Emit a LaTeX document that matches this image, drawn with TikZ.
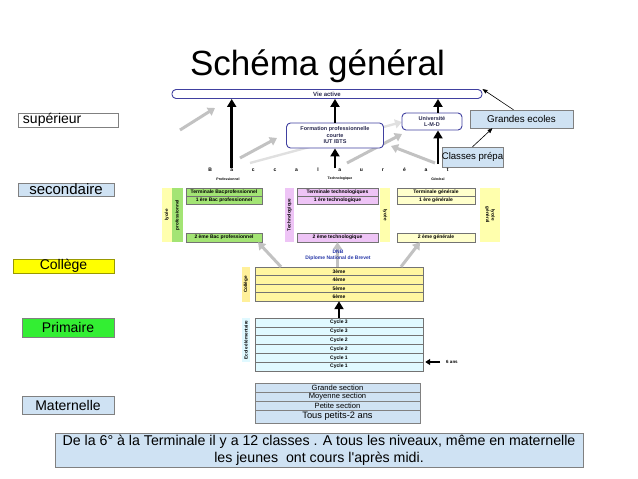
\documentclass[tikz,border=0pt]{standalone}
\usepackage{fontspec}
\setmainfont{Liberation Sans}
\usetikzlibrary{arrows.meta}
\definecolor{lblue}{HTML}{CFE2F3}
\definecolor{colyel}{HTML}{FFFF00}
\definecolor{prigreen}{HTML}{33EE33}
\definecolor{vablue}{HTML}{4040A0}
\definecolor{navy}{HTML}{2A2A50}
\definecolor{gray1}{HTML}{C2C2C2}
\definecolor{gray2}{HTML}{E0E0E0}
\definecolor{progreen}{HTML}{A3E474}
\definecolor{lyyel}{HTML}{FFFFAD}
\definecolor{techpink}{HTML}{EEC4F6}
\definecolor{genyel}{HTML}{FFFFCC}
\definecolor{colrow}{HTML}{FFF6A0}
\definecolor{colbar}{HTML}{FFF09A}
\definecolor{prirow}{HTML}{E0F9FF}
\definecolor{dnbblue}{HTML}{2838A8}
\begin{document}
\begin{tikzpicture}
[x=1pt, y=-1pt,
every node/.style={inner sep=0pt, align=center},
lbl/.style={draw=gray, minimum height=14pt, font=\fontsize{14}{14}\selectfont},
note/.style={draw=gray, fill=lblue, font=\fontsize{#1}{#1}\selectfont},
rbox/.style={draw=vablue, line width=0.9pt, rounded corners=4pt, fill=white, text=navy, font=\fontsize{5.5}{6.5}\selectfont\bfseries},
cls/.style={draw=black!55, line width=0.4pt, font=\fontsize{5}{5}\selectfont\bfseries},
bar/.style={font=\fontsize{4.6}{5.5}\selectfont\bfseries},
tag/.style={font=\fontsize{#1}{#1}\selectfont\bfseries},
barr/.style={line width=2.6pt, -{Triangle[width=9pt,length=8pt]}},
garr/.style={line width=3pt, gray1, -{Triangle[width=9pt,length=7pt]}},
larr/.style={line width=0.6pt, -{Triangle[width=4pt,length=5pt]}}]
\useasboundingbox (0,0) rectangle (638,479);
\node[anchor=base, font=\fontsize{35}{35}\selectfont] (title) at (317.5,75) {Schéma général};

\coordinate (s1) at (180,130); \coordinate (e1) at (215,108);
\coordinate (s2) at (240,158); \coordinate (e2) at (277,138);
\coordinate (s3) at (250,163); \coordinate (e3) at (402,122);
\coordinate (s4) at (347,163); \coordinate (e4) at (402,134);
\coordinate (s5) at (435,163); \coordinate (e5) at (391,146);
\draw[garr, gray2, line width=2.4pt] (s3) -- (e3);
\foreach \s/\e in {s1/e1,s2/e2,s4/e4,s5/e5}
  \draw[garr] (\s) -- (\e);

\node[rbox, minimum width=310pt, minimum height=9pt, font=\fontsize{6}{6}\selectfont\bfseries] (va) at (327,94) {Vie active};
\node[rbox, minimum width=97pt, minimum height=25pt] (fp) at (335,135.5) {Formation professionnelle\\courte\\IUT /BTS};
\node[rbox, minimum width=60pt, minimum height=17pt] (uni) at (432,121.5) {Université\\L-M-D};
\node[note={9.8}, minimum width=103pt, minimum height=18pt] (ge) at (521.5,119) {Grandes ecoles};
\node[note={9.6}, minimum width=61pt, minimum height=20pt] (cp) at (472.5,157) {Classes prépa};

\foreach \l [count=\i] in {B,a,c,c,a,l,a,u,r,é,a,t}
  \node[tag=5] (b\i) at ({188.5+21.6*\i},170) {\l};
\node[tag=3.5] (tpro) at (228,179) {Professionnel};
\node[tag=3.5] (ttech) at (340,179) {Technologique};
\node[tag=3.5] (tgen) at (438,179) {Général};
\coordinate (bg) at (438,164);

\draw[barr] (b2.north) -- (b2.north |- va.south);
\draw[barr] (b7.north -| fp) -- (fp.south);
\draw[barr] (fp.north) -- (fp.north |- va.south);
\draw[barr] (bg) -- (bg |- uni.south);
\draw[barr] (bg |- uni.north) -- (bg |- va.south);
\draw[larr] ([xshift=-8pt]ge.north) -- (va.north east);
\draw[larr] (cp.north) -- ([xshift=-29pt]ge.south);

\node[lbl, fill=white, minimum width=100pt, text width=90pt, align=left] (sup) at (68,120) {supérieur};
\node[lbl, fill=lblue, minimum width=96pt, minimum height=13pt, font=\fontsize{15}{15}\selectfont] (sec) at (66,189.5) {secondaire};
\node[lbl, draw=colyel!60!black, fill=colyel, minimum width=101pt] (col) at (63.5,266) {Collège};
\node[lbl, fill=prigreen, minimum width=92pt, minimum height=19pt] (pri) at (68,327.5) {Primaire};
\node[lbl, fill=lblue, minimum width=92pt, minimum height=18pt] (mat) at (68,405) {Maternelle};

\node[bar, fill=lyyel, rotate=90, minimum width=54pt, minimum height=10pt] (lypro) at (167,215) {lycée};
\node[bar, fill=progreen, rotate=90, minimum width=54pt, minimum height=11pt] (barpro) at (177.5,215) {professionnel};
\node[bar, fill=techpink, rotate=90, minimum width=54pt, minimum height=9pt] (bartech) at (289.5,215) {Technologique};
\node[bar, fill=lyyel, rotate=-90, minimum width=54pt, minimum height=10pt] (lytech) at (385,215) {lycée};
\node[bar, fill=lyyel, rotate=-90, minimum width=54pt, minimum height=20pt] (lygen) at (490,215) {lycée\\général};

\node[cls, fill=progreen, minimum width=76pt, minimum height=8pt] (proT) at (224,192) {Terminale Bacprofessionnel};
\node[cls, fill=progreen, minimum width=76pt, minimum height=8pt] (pro1) at (224,200) {1 ère Bac professionnel};
\node[cls, fill=progreen, minimum width=76pt, minimum height=9pt] (pro2) at (224,237.5) {2 ème Bac professionnel};
\node[cls, fill=techpink, minimum width=81pt, minimum height=8pt] (techT) at (337.5,192) {Terminale technologiques};
\node[cls, fill=techpink, minimum width=81pt, minimum height=8pt] (tech1) at (337.5,200) {1 ère technologique};
\node[cls, fill=techpink, minimum width=81pt, minimum height=9pt] (tech2) at (337.5,237.5) {2 ème technologique};
\node[cls, fill=genyel, minimum width=78pt, minimum height=8pt] (genT) at (436,192) {Terminale générale};
\node[cls, fill=genyel, minimum width=78pt, minimum height=8pt] (gen1) at (436,200) {1 ère générale};
\node[cls, fill=genyel, minimum width=78pt, minimum height=9pt] (gen2) at (436,237.5) {2 ème générale};

\node[bar, fill=colbar, rotate=90, minimum width=35pt, minimum height=8pt] (barcol) at (246,284.5) {Collège};
\foreach \t [count=\i] in {3ème,4ème,5ème,6ème}
  \node[cls, fill=colrow, minimum width=168pt, minimum height=8.5pt] (co\i) at (339,{262.75+8.5*\i}) {\t};
\node[bar, fill=prirow, rotate=90, minimum width=44pt, minimum height=8pt] (barpri) at (246,340) {Ecole élémentaire};
\foreach \t [count=\i] in {Cycle 3,Cycle 3,Cycle 2,Cycle 2,Cycle 1,Cycle 1}
  \node[cls, fill=prirow, minimum width=168pt, minimum height=8.83pt] (pr\i) at (339,{313.58+8.833*\i}) {\t};

\draw[garr] ([xshift=-58pt]co1.north) -- ([xshift=34pt]pro2.south);
\draw[garr] (co1.north -| tech2) -- (tech2.south);
\draw[garr] ([xshift=62pt]co1.north) -- ([xshift=-16pt]gen2.south);
\node[tag=5, text=dnbblue, font=\fontsize{5}{6.5}\selectfont\bfseries] (dnb) at (338,255.5) {DNB\\Diplome National de Brevet};
\draw[barr] (pr1.north) -- (co4.south);
\node[tag=4.5] (ans) at (452,362) {6 ans};
\draw[line width=1.6pt, -{Triangle[width=6pt,length=5pt]}, shorten >=2pt] ([xshift=-6pt]ans.west) -- (ans.west -| pr6.east);

\node[note={7.6}, minimum width=165pt, minimum height=9pt] (ma1) at (337.5,387.5) {Grande section};
\node[note={7.6}, minimum width=165pt, minimum height=9pt] (ma2) at (337.5,396.5) {Moyenne section};
\node[note={7.6}, minimum width=165pt, minimum height=9pt] (ma3) at (337.5,405.5) {Petite section};
\node[note={9.3}, minimum width=165pt, minimum height=13pt] (ma4) at (337.5,416.5) {Tous petits-2 ans};

\node[note={14.2}, minimum width=528pt, minimum height=34pt, font=\fontsize{14.2}{16.5}\selectfont] (txt) at (319,450) {De la 6° à la Terminale il y a 12 classes . A tous les niveaux, même en maternelle\\les jeunes\ \ ont cours l\textquotesingle après midi.};
\end{tikzpicture}
\end{document}
